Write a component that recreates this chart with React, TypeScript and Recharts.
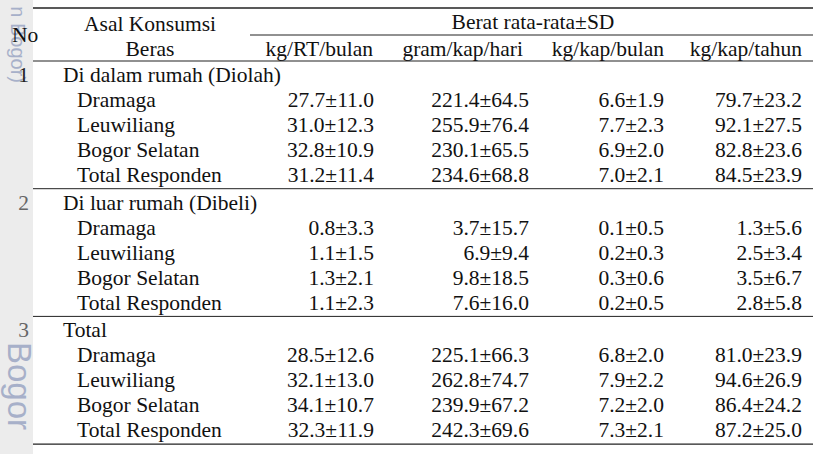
import React from "react";
import { ScatterChart, Scatter, XAxis, YAxis, ReferenceLine, ReferenceArea } from "recharts";

// table content
const groupNames = ["Di dalam rumah (Diolah)", "Di luar rumah (Dibeli)", "Total"];
const places = ["Dramaga", "Leuwiliang", "Bogor Selatan", "Total Responden"];
const units = ["kg/RT/bulan", "gram/kap/hari", "kg/kap/bulan", "kg/kap/tahun"];

const dalamMean = [[27.7, 221.4, 6.6, 79.7], [31.0, 255.9, 7.7, 92.1], [32.8, 230.1, 6.9, 82.8], [31.2, 234.6, 7.0, 84.5]];
const dalamSd = [[11.0, 64.5, 1.9, 23.2], [12.3, 76.4, 2.3, 27.5], [10.9, 65.5, 2.0, 23.6], [11.4, 68.8, 2.1, 23.9]];
const luarMean = [[0.8, 3.7, 0.1, 1.3], [1.1, 6.9, 0.2, 2.5], [1.3, 9.8, 0.3, 3.5], [1.1, 7.6, 0.2, 2.8]];
const luarSd = [[3.3, 15.7, 0.5, 5.6], [1.5, 9.4, 0.3, 3.4], [2.1, 18.5, 0.6, 6.7], [2.3, 16.0, 0.5, 5.8]];
const totalMean = [[28.5, 225.1, 6.8, 81.0], [32.1, 262.8, 7.9, 94.6], [34.1, 239.9, 7.2, 86.4], [32.3, 242.3, 7.3, 87.2]];
const totalSd = [[12.6, 66.3, 2.0, 23.9], [13.0, 74.7, 2.2, 26.9], [10.7, 67.2, 2.0, 24.2], [11.9, 69.6, 2.1, 25.0]];

const means = [dalamMean, luarMean, totalMean];
const sds = [dalamSd, luarSd, totalSd];

// layout
const W = 816;
const H = 454;
const LEFT = 33;
const RIGHT = 813;
const colRight = [374, 529, 664, 802];
const headRight = [373, 523, 664, 802];
const groupLine = (g: number) => 61 + g * 127.7;
const PITCH = 25;
const FONT = "'Liberation Serif', 'Times New Roman', serif";
const FS = 21.5;

type Cell = { x: number; y: number; label: string; anchor?: string; size?: number; rot?: boolean; color?: string; sans?: boolean };

const cells: Cell[] = [];
cells.push({ x: 12, y: 42, label: "No" });
cells.push({ x: 150, y: 31, label: "Asal Konsumsi", anchor: "middle" });
cells.push({ x: 150, y: 56, label: "Beras", anchor: "middle" });
cells.push({ x: 533, y: 29, label: "Berat rata-rata±SD", anchor: "middle" });
units.forEach((u, i) => cells.push({ x: headRight[i], y: 56, label: u, anchor: "end" }));

groupNames.forEach((name, g) => {
  const top = groupLine(g) + 21;
  cells.push({ x: 29, y: top, label: String(g + 1), anchor: "end", color: g === 0 ? "#222" : "#666" });
  cells.push({ x: 63, y: top, label: name });
  places.forEach((p, r) => {
    const y = top + PITCH * (r + 1);
    cells.push({ x: 77, y, label: p });
    means[g][r].forEach((m, c) => {
      cells.push({ x: colRight[c], y, label: `${m.toFixed(1)}±${sds[g][r][c].toFixed(1)}`, anchor: "end" });
    });
  });
});

const watermark: Cell[] = [
  { x: 11, y: 83, label: "n Bogor)", anchor: "end", size: 20, rot: true, color: "#a7b0c9", sans: true },
  { x: 7.5, y: 342, label: "Bogor", anchor: "start", size: 33, rot: true, color: "#a7b0c9", sans: true },
];

const lines = [
  { x1: LEFT, x2: RIGHT, y: 8, w: 1.4 },
  { x1: 250, x2: RIGHT, y: 35, w: 1 },
  { x1: LEFT, x2: RIGHT, y: groupLine(0), w: 1.2 },
  { x1: LEFT, x2: RIGHT, y: groupLine(1), w: 1 },
  { x1: LEFT, x2: RIGHT, y: groupLine(2), w: 1 },
  { x1: LEFT, x2: RIGHT, y: groupLine(3), w: 1.4 },
];

const TextShape = (props: any) => {
  const { cx, cy, payload } = props;
  const c: Cell = payload;
  return (
    <text
      x={cx}
      y={cy}
      transform={c.rot ? `rotate(90 ${cx} ${cy})` : undefined}
      textAnchor={c.anchor || "start"}
      fontFamily={c.sans ? "'Liberation Sans', Arial, sans-serif" : FONT}
      fontSize={c.size || FS}
      fill={c.color || "#111"}
    >
      {c.label}
    </text>
  );
};

export default function App() {
  return (
    <div style={{ position: "absolute", left: 0, top: 0, width: W, height: H, background: "#fff" }}>
      <ScatterChart width={W} height={H} margin={{ top: 0, right: 0, bottom: 0, left: 0 }}>
        <XAxis type="number" dataKey="x" domain={[0, W]} hide />
        <YAxis type="number" dataKey="y" domain={[0, H]} reversed hide />
        <ReferenceArea x1={0} x2={LEFT} y1={0} y2={H} fill="#ececec" fillOpacity={1} stroke="none" ifOverflow="visible" />
        <Scatter data={watermark} shape={TextShape} isAnimationActive={false} />
        {lines.map((l, i) => (
          <ReferenceLine
            key={i}
            segment={[{ x: l.x1, y: l.y }, { x: l.x2, y: l.y }]}
            stroke="#222"
            strokeWidth={l.w}
            ifOverflow="visible"
          />
        ))}
        <Scatter data={cells} shape={TextShape} isAnimationActive={false} />
      </ScatterChart>
    </div>
  );
}
